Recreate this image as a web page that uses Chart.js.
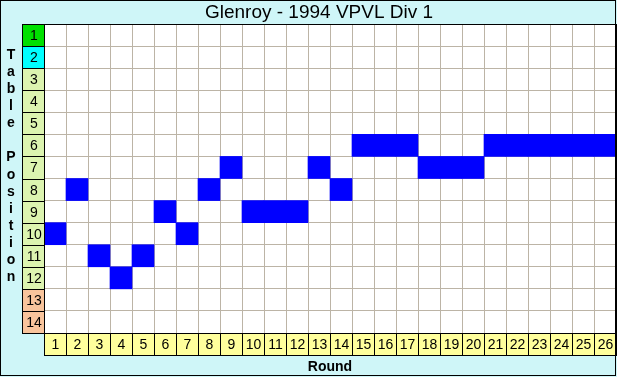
<!DOCTYPE html>
<html><head><meta charset="utf-8">
<script src="https://cdn.jsdelivr.net/npm/chart.js@4/dist/chart.umd.min.js"></script>
<style>html,body{margin:0;padding:0;background:#fff}canvas{display:block}</style>
</head><body>
<canvas id="c" width="617" height="377"></canvas>
<script>
const titleText = 'Glenroy - 1994 VPVL Div 1';
const xTitle = 'Round';
const yTitle = 'Table Position';
const rounds = ['1','2','3','4','5','6','7','8','9','10','11','12','13','14','15','16','17','18','19','20','21','22','23','24','25','26'];
const positions = [10,8,11,12,11,9,10,8,7,9,9,9,7,8,6,6,6,7,7,7,6,6,6,6,6,6];
const rowLabels = ['1','2','3','4','5','6','7','8','9','10','11','12','13','14'];
const rowColors = ['#00E000','#00FFFF','#DCF4B0','#DCF4B0','#DCF4B0','#DCF4B0','#DCF4B0','#DCF4B0','#DCF4B0','#DCF4B0','#DCF4B0','#DCF4B0','#F8C49C','#F8C49C'];

const LABEL_COL_LEFT = 22;
const BG = '#CFF6F8';

const deco = {
  id: 'deco',
  beforeDraw(chart) {
    const ctx = chart.ctx, a = chart.chartArea;
    ctx.save();
    ctx.fillStyle = BG;
    ctx.fillRect(0, 0, chart.width, chart.height);
    ctx.fillStyle = '#FFFFFF';
    ctx.fillRect(a.left, a.top, a.right - a.left, a.bottom - a.top);
    ctx.restore();
  },
  afterDraw(chart) {
    const ctx = chart.ctx, a = chart.chartArea;
    const xs = chart.scales.x, ys = chart.scales.y;
    ctx.save();
    // title
    ctx.fillStyle = '#000';
    ctx.font = '19px "Liberation Sans", Arial, sans-serif';
    ctx.textAlign = 'center';
    ctx.textBaseline = 'middle';
    ctx.fillText(titleText, (LABEL_COL_LEFT + a.right) / 2, 13);
    // row label cells
    ctx.lineWidth = 1;
    ctx.font = '14px "Liberation Sans", Arial, sans-serif';
    rowLabels.forEach((lab, i) => {
      const v = i + 1;
      const t = Math.round(ys.getPixelForValue(v - 0.5));
      const b = Math.round(ys.getPixelForValue(v + 0.5));
      ctx.fillStyle = rowColors[i];
      ctx.fillRect(LABEL_COL_LEFT, t, a.left - LABEL_COL_LEFT, b - t);
      ctx.strokeStyle = '#000';
      ctx.strokeRect(LABEL_COL_LEFT + 0.5, t + 0.5, a.left - LABEL_COL_LEFT, b - t);
      ctx.fillStyle = '#000';
      ctx.fillText(lab, (LABEL_COL_LEFT + a.left) / 2 + 1, (t + b) / 2 + 1);
    });
    // round label cells
    const cw = (a.right - a.left) / rounds.length;
    const rowH = 22;
    rounds.forEach((r, i) => {
      const cx = xs.getPixelForValue(i);
      const l = Math.round(cx - cw / 2), rr = Math.round(cx + cw / 2);
      ctx.fillStyle = '#FFFF9C';
      ctx.fillRect(l, a.bottom, rr - l, rowH);
      ctx.strokeStyle = '#000';
      ctx.strokeRect(l + 0.5, a.bottom + 0.5, rr - l, rowH);
      ctx.fillStyle = '#000';
      ctx.fillText(r, cx + 0.5, a.bottom + rowH / 2 + 1);
    });
    // plot border
    ctx.strokeStyle = '#000';
    ctx.strokeRect(a.left + 0.5, a.top + 0.5, a.right - a.left, a.bottom - a.top);
    ctx.beginPath();
    ctx.moveTo(LABEL_COL_LEFT, a.top + 0.5); ctx.lineTo(a.right, a.top + 0.5);
    ctx.stroke();
    // axis titles
    ctx.font = 'bold 14px "Liberation Sans", Arial, sans-serif';
    ctx.fillText(xTitle, (a.left + a.right) / 2, a.bottom + rowH + 12);
    const letters = yTitle.split('');
    letters.forEach((ch, i) => {
      if (ch !== ' ') ctx.fillText(ch, 11, 55 + i * 17.1);
    });
    // outer frame
    ctx.strokeRect(0.5, 0.5, chart.width - 2, chart.height - 2);
    ctx.restore();
  }
};

new Chart(document.getElementById('c'), {
  type: 'bar',
  data: {
    labels: rounds,
    datasets: [{
      data: positions.map(p => [p - 0.5, p + 0.5]),
      backgroundColor: '#0000FF',
      borderWidth: 0,
      barPercentage: 1,
      categoryPercentage: 1
    }]
  },
  options: {
    responsive: false,
    animation: false,
    layout: { padding: { left: 44, top: 24, right: 1, bottom: 44 } },
    plugins: { legend: { display: false }, title: { display: false }, tooltip: { enabled: false } },
    scales: {
      x: {
        type: 'category',
        offset: true,
        grid: { offset: true, color: '#BCB4A6', drawTicks: false },
        border: { display: false },
        ticks: { display: false },
        afterFit: s => { s.height = 0; }
      },
      y: {
        type: 'linear',
        reverse: true,
        min: 0.5,
        max: 14.5,
        grid: { color: '#BCB4A6', drawTicks: false },
        border: { display: false },
        ticks: { display: false },
        afterBuildTicks: s => { s.ticks = rowLabels.map((_, i) => ({ value: i + 0.5 })).concat([{ value: 14.5 }]); },
        afterFit: s => { s.width = 0; }
      }
    }
  },
  plugins: [deco]
});
</script>
</body></html>
